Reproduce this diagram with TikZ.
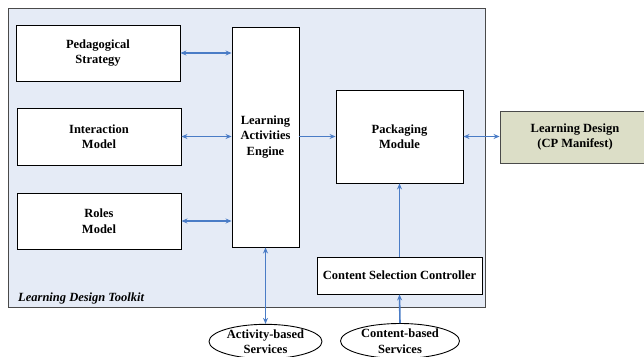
\documentclass[tikz,border=0pt]{standalone}
\usepackage{fontspec}
\setmainfont{Liberation Serif}
\usetikzlibrary{arrows.meta,shapes.geometric}
\definecolor{arrowblue}{HTML}{4A7CC6}
\definecolor{toolkitbg}{HTML}{E5EBF6}
\definecolor{ldfill}{HTML}{DCDEC7}
\definecolor{frame}{HTML}{4A4A4A}
\begin{document}
\begin{tikzpicture}[x=1pt,y=-1pt,
  box/.style={draw=black,line width=0.9pt,fill=white,font=\fontsize{12.5}{15.5}\selectfont\bfseries,align=center,inner sep=0pt},
  oval/.style={ellipse,draw=black,line width=0.9pt,fill=white,font=\fontsize{12.5}{15.5}\selectfont\bfseries,align=center,inner sep=0pt},
  arr/.style={draw=arrowblue,line width=1.6pt,-{Stealth[length=6pt,width=5pt]}},
  darr/.style={draw=arrowblue,line width=1.6pt,{Stealth[length=6pt,width=5pt]}-{Stealth[length=6pt,width=5pt]}}
]
\useasboundingbox (0,0) rectangle (644,356);
\draw[fill=toolkitbg,draw=frame,line width=0.9pt] (8,8) rectangle (485,307);
\node[anchor=base west,font=\fontsize{12.5}{14}\selectfont\bfseries\itshape,inner sep=0pt] (tk) at (18,301) {Learning Design Toolkit};

\node[box,minimum width=164pt,minimum height=56pt] (ped) at (98,53) {Pedagogical\\Strategy};
\node[box,minimum width=164pt,minimum height=57pt] (int) at (99,136.5) {Interaction\\Model};
\node[box,minimum width=164pt,minimum height=56pt] (rol) at (99,221) {Roles\\Model};
\node[box,minimum width=67pt,minimum height=220pt] (lae) at (265.5,137) {Learning\\Activities\\Engine};
\node[box,minimum width=127pt,minimum height=93pt] (pack) at (399.5,136.5) {Packaging\\Module};
\node[box,fill=ldfill,draw=frame,minimum width=150pt,minimum height=52pt] (ld) at (575,137) {Learning Design\\(CP Manifest)};
\node[box,minimum width=165pt,minimum height=37pt] (csc) at (399.5,275.5) {Content Selection Controller};
\node[oval,minimum width=113pt,minimum height=33pt] (ab) at (265.5,341.5) {Activity-based\\Services};
\node[oval,minimum width=119pt,minimum height=35pt] (cb) at (400,341) {Content-based\\Services};

\draw[darr] (ped.east) -- (ped.east -| lae.west);
\draw[darr] (int.east) -- (int.east -| lae.west);
\draw[darr] (rol.east) -- (rol.east -| lae.west);
\draw[arr] (pack.west -| lae.east) -- (pack.west);
\draw[darr] (pack.east) -- (pack.east -| ld.west);
\draw[arr] (csc.north) -- (pack.south);
\draw[arr] (cb.north) -- (csc.south);
\draw[darr] (lae.south) -- (ab.north);
\end{tikzpicture}
\end{document}
